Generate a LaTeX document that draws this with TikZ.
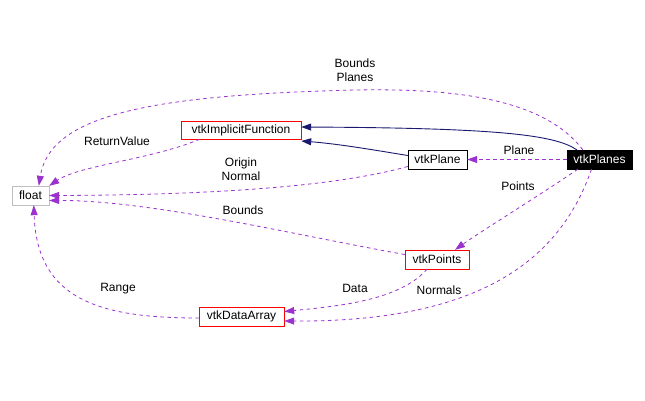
\documentclass[tikz,border=0pt]{standalone}
\usepackage{fontspec}
\setmainfont{Liberation Sans}
\usetikzlibrary{arrows.meta}
\definecolor{dxorchid}{HTML}{9A32CD}
\definecolor{dxnavy}{HTML}{191970}
\definecolor{dxgrey}{HTML}{BFBFBF}

\begin{document}
\begin{tikzpicture}[
  x=1pt,y=-1pt,
  font=\fontsize{12}{14}\selectfont,
  cls/.style={draw,fill=white,inner sep=2pt,minimum height=19pt},
  use/.style={draw=dxorchid,line width=0.8pt,dash pattern=on 3.5pt off 3.5pt,
    -{Triangle[length=10pt,width=7pt]}},
  inh/.style={draw=dxnavy,line width=0.9pt,-{Triangle[length=10pt,width=7pt]}},
  lbl/.style={align=center,inner sep=0pt}]
\useasboundingbox (0,0) rectangle (645,400);
% classes
\node[cls,draw=dxgrey,minimum width=37pt] (float) at (30.5,195.5) {float};
\node[cls,draw=red,minimum width=120pt,minimum height=18pt] (impl) at (241,130) {vtkImplicitFunction};
\node[cls,draw=black,minimum width=59pt] (plane) at (437.5,159.5) {vtkPlane};
\node[cls,fill=black,text=white,minimum width=65pt] (planes) at (599.5,159.5) {vtkPlanes};
\node[cls,draw=red,minimum width=64pt] (points) at (437,259.5) {vtkPoints};
\node[cls,draw=red,minimum width=85pt] (darray) at (241.5,316.5) {vtkDataArray};
% inheritance
\draw[inh] ([xshift=10pt]planes.north west) .. controls (555,135) and (500,128) .. ([yshift=3pt]impl.east);
\draw[inh] ([yshift=4pt]plane.west) .. controls (380,151) and (340,144) .. ([yshift=-11pt]impl.east);
% usage
\draw[use] (planes.west) -- (plane.east);
\draw[use] ([xshift=16pt]planes.north west) .. controls (545,100) and (460,88) .. (355,90)
  .. controls (150,95) and (50,115) .. ([xshift=27pt]float.north west);
\draw[use] ([xshift=19pt]impl.south west) .. controls (150,160) and (80,165) .. (float.north east);
\draw[use] ([yshift=-7pt]plane.west) .. controls (330,188) and (200,195) .. (float.east);
\draw[use] ([yshift=5pt]points.west) .. controls (300,236) and (150,200) .. ([yshift=-5pt]float.east);
\draw[use] ([xshift=11pt]planes.south west) .. controls (540,195) and (480,232) .. ([xshift=18pt]points.north);
\draw[use] ([xshift=-8pt]planes.south) .. controls (560,260) and (480,322) .. ([yshift=-4.5pt]darray.east);
\draw[use] ([xshift=-10pt]points.south) .. controls (400,300) and (340,306) .. ([yshift=5pt]darray.east);
\draw[use] ([yshift=-1.5pt]darray.west) .. controls (100,318) and (37,300) .. ([xshift=22pt]float.south west);
% labels
\node[lbl] (lPlane) at (519,150) {Plane};
\node[lbl] (lBP) at (355,70) {Bounds\\Planes};
\node[lbl] (lRet) at (117,141) {ReturnValue};
\node[lbl] (lOrig) at (241,169.5) {Origin\\Normal};
\node[lbl] (lBnd) at (243,210) {Bounds};
\node[lbl] (lPts) at (518,186) {Points};
\node[lbl] (lNorm) at (439,290) {Normals};
\node[lbl] (lData) at (355,288) {Data};
\node[lbl] (lRange) at (118,289) {Range};
\end{tikzpicture}
\end{document}
